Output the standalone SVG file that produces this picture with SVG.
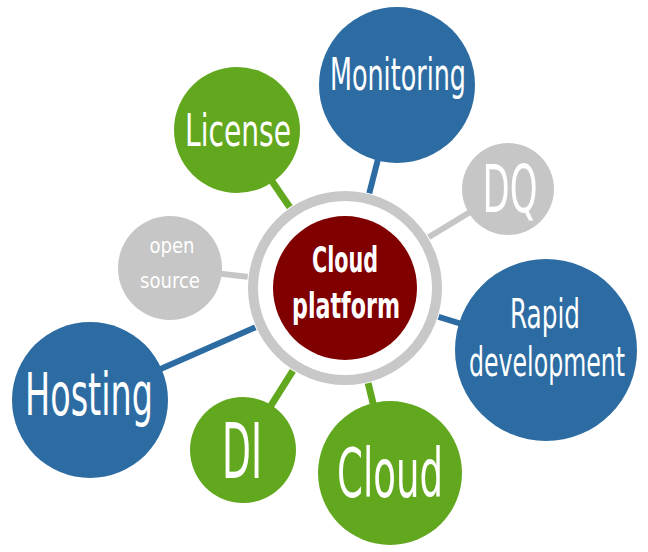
<svg xmlns="http://www.w3.org/2000/svg" width="648" height="552" viewBox="0 0 648 552">
<style>
.t{font-family:"Liberation Sans Narrow","DejaVu Sans Condensed","Liberation Sans",sans-serif;fill:#fff;text-anchor:middle}
.blue{fill:#2c6ca3}.green{fill:#62a81f}.gray{fill:#c6c6c6}
.lb{stroke:#2c6ca3;stroke-width:6}.lg{stroke:#62a81f;stroke-width:7}.lgr{stroke:#c6c6c6;stroke-width:6}
</style>
<rect width="648" height="552" fill="#fff"/>
<g id="connectors">
<line class="lg" x1="345" y1="288" x2="237" y2="130"/>
<line class="lb" x1="345" y1="288" x2="397" y2="85"/>
<line class="lgr" x1="345" y1="288" x2="508" y2="189"/>
<line class="lb" x1="345" y1="288" x2="546" y2="350"/>
<line class="lg" x1="345" y1="288" x2="390" y2="473"/>
<line class="lg" x1="345" y1="288" x2="243" y2="450"/>
<line class="lb" x1="345" y1="288" x2="90" y2="400"/>
<line class="lgr" x1="345" y1="288" x2="170" y2="268"/>
</g>
<g id="license"><circle class="green" cx="237" cy="130" r="63"/><text class="t" x="238" y="146" font-size="44" textLength="106" lengthAdjust="spacingAndGlyphs">License</text></g>
<g id="monitoring"><circle class="blue" cx="397" cy="85" r="78"/><text class="t" x="398" y="90" font-size="44" textLength="136" lengthAdjust="spacingAndGlyphs">Monitoring</text></g>
<g id="dq"><circle class="gray" cx="508" cy="189" r="46"/><text class="t" x="510" y="212" font-size="66" textLength="55" lengthAdjust="spacingAndGlyphs">DQ</text></g>
<g id="rapid"><circle class="blue" cx="546" cy="350" r="91"/><text class="t" x="545" y="328" font-size="40" textLength="70" lengthAdjust="spacingAndGlyphs">Rapid</text><text class="t" x="547" y="376" font-size="40" textLength="156" lengthAdjust="spacingAndGlyphs">development</text></g>
<g id="cloud"><circle class="green" cx="390" cy="473" r="72"/><text class="t" x="390" y="497" font-size="68" textLength="106" lengthAdjust="spacingAndGlyphs">Cloud</text></g>
<g id="di"><circle class="green" cx="243" cy="450" r="53"/><text class="t" x="242" y="478" font-size="76" textLength="40" lengthAdjust="spacingAndGlyphs">DI</text></g>
<g id="hosting"><circle class="blue" cx="90" cy="400" r="78"/><text class="t" x="89" y="415" font-size="58" textLength="128" lengthAdjust="spacingAndGlyphs">Hosting</text></g>
<g id="opensource"><circle class="gray" cx="170" cy="268" r="52"/><text class="t" x="172" y="253" font-size="22" textLength="45" lengthAdjust="spacingAndGlyphs">open</text><text class="t" x="170" y="288" font-size="22" textLength="60" lengthAdjust="spacingAndGlyphs">source</text></g>
<g id="center">
<circle cx="345" cy="288" r="98" fill="#fff"/>
<circle cx="345" cy="288" r="92" fill="none" stroke="#c8c8c8" stroke-width="10"/>
<circle cx="345" cy="288" r="72" fill="#800000"/>
<text class="t" x="345" y="272" font-size="36" font-weight="bold" textLength="66" lengthAdjust="spacingAndGlyphs">Cloud</text>
<text class="t" x="346" y="318" font-size="36" font-weight="bold" textLength="108" lengthAdjust="spacingAndGlyphs">platform</text>
</g>
</svg>
